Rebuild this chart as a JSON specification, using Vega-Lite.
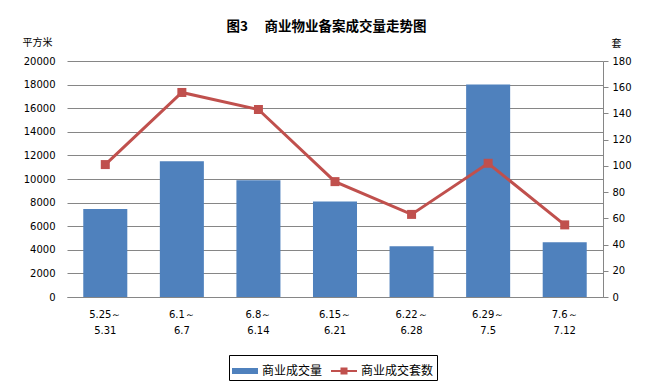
{
  "$schema": "https://vega.github.io/schema/vega-lite/v6.json",
  "width": 536,
  "height": 236,
  "autosize": {"type": "none"},
  "padding": {"left": 67, "top": 61, "right": 48, "bottom": 88},
  "background": "white",
  "title": {
    "text": "图3　 商业物业备案成交量走势图",
    "font": "Noto Sans CJK SC",
    "fontSize": 13.5,
    "fontWeight": "bold",
    "color": "#000",
    "anchor": "middle",
    "frame": "bounds",
    "offset": 4
  },
  "data": {
    "values": [
      {"week": "5.25～\n5.31", "area": 7450, "count": 101},
      {"week": "6.1～\n6.7", "area": 11500, "count": 156},
      {"week": "6.8～\n6.14", "area": 9900, "count": 143},
      {"week": "6.15～\n6.21", "area": 8100, "count": 88},
      {"week": "6.22～\n6.28", "area": 4300, "count": 63},
      {"week": "6.29～\n7.5", "area": 18000, "count": 102},
      {"week": "7.6～\n7.12", "area": 4650, "count": 55}
    ]
  },
  "encoding": {
    "x": {
      "field": "week",
      "type": "nominal",
      "sort": null,
      "scale": {"paddingInner": 0.425, "paddingOuter": 0.2125},
      "axis": {
        "title": null,
        "labelAngle": 0,
        "labelExpr": "split(datum.label, '\\n')",
        "labelLineHeight": 16,
        "labelBaseline": "top",
        "labelPadding": 12,
        "labelFont": "DejaVu Sans",
        "labelFontSize": 10,
        "labelColor": "#000",
        "ticks": false,
        "domain": true,
        "domainColor": "#868686",
        "grid": false
      }
    }
  },
  "layer": [
    {
      "mark": {"type": "bar", "color": "#4F81BD"},
      "encoding": {
        "y": {
          "field": "area",
          "type": "quantitative",
          "scale": {"domain": [0, 20000], "nice": false},
          "axis": {
            "orient": "left",
            "values": [0, 2000, 4000, 6000, 8000, 10000, 12000, 14000, 16000, 18000, 20000],
            "format": "d",
            "title": "平方米",
            "titleAngle": 0,
            "titleAlign": "center",
            "titleBaseline": "middle",
            "titleX": -30,
            "titleY": -19,
            "titleFont": "Noto Sans CJK SC",
            "titleFontSize": 10,
            "titleFontWeight": "normal",
            "titleColor": "#000",
            "labelFont": "DejaVu Sans",
            "labelFontSize": 10,
            "labelColor": "#000",
            "labelPadding": 12,
            "ticks": false,
            "domain": false,
            "grid": true,
            "gridColor": "#868686",
            "gridWidth": 1
          }
        },
        "color": {
          "datum": "商业成交量",
          "type": "nominal",
          "scale": {"domain": ["商业成交量", "商业成交套数"], "range": ["#4F81BD", "#C0504D"]},
          "legend": {
            "title": null,
            "orient": "none",
            "direction": "horizontal",
            "legendX": 162,
            "legendY": 294,
            "strokeColor": "#000",
            "padding": 3,
            "symbolSize": 676,
            "labelFont": "Noto Sans CJK SC",
            "labelFontSize": 12,
            "labelColor": "#000",
            "labelOffset": 4,
            "columnPadding": 8,
            "encode": {
              "symbols": {
                "update": {
                  "shape": {"signal": "datum.value === '商业成交量' ? 'M-1,-0.23H1V0.23H-1Z' : 'M-1,-0.08H1V0.08H-1Z M-0.27,-0.27H0.27V0.27H-0.27Z'"},
                  "fill": {"scale": "color", "field": "value"},
                  "strokeWidth": {"value": 0},
                  "opacity": {"value": 1}
                }
              }
            }
          }
        }
      }
    },
    {
      "mark": {
        "type": "line",
        "strokeWidth": 3,
        "point": {"shape": "square", "size": 81, "filled": true, "opacity": 1}
      },
      "encoding": {
        "y": {
          "field": "count",
          "type": "quantitative",
          "scale": {"domain": [0, 180], "nice": false},
          "axis": {
            "orient": "right",
            "values": [0, 20, 40, 60, 80, 100, 120, 140, 160, 180],
            "title": "套",
            "titleAngle": 0,
            "titleAlign": "center",
            "titleBaseline": "middle",
            "titleX": 13,
            "titleY": -18,
            "titleFont": "Noto Sans CJK SC",
            "titleFontSize": 10,
            "titleFontWeight": "normal",
            "titleColor": "#000",
            "labelFont": "DejaVu Sans",
            "labelFontSize": 10,
            "labelColor": "#000",
            "labelPadding": 4,
            "ticks": true,
            "tickSize": 5,
            "tickColor": "#868686",
            "domain": true,
            "domainColor": "#868686",
            "grid": false
          }
        },
        "color": {"datum": "商业成交套数", "type": "nominal"}
      }
    }
  ],
  "resolve": {"scale": {"y": "independent"}},
  "config": {
    "view": {"stroke": null}
  }
}
